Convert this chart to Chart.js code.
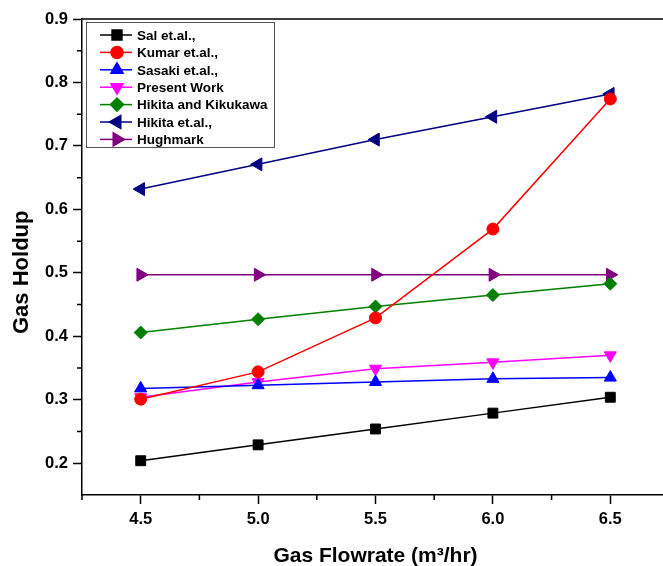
<!DOCTYPE html>
<html>
<head>
<meta charset="utf-8">
<script src="https://cdn.jsdelivr.net/npm/chart.js@4.4.1/dist/chart.umd.min.js"></script>
<style>
body { margin: 0; background: #fff; overflow: hidden; }
#wrap { width: 663px; height: 566px; overflow: hidden; }
#box { width: 680px; height: 566px; position: relative; }
</style>
</head>
<body>
<div id="wrap"><div id="box"><canvas id="myChart"></canvas></div></div>
<script>
// x values (gas flowrate, m3/hr)
const flowRates = [4.5, 5.0, 5.5, 6.0, 6.5];

// gas holdup
const salEtAl = [0.204, 0.229, 0.254, 0.279, 0.304];
const kumarEtAl = [0.301, 0.344, 0.429, 0.569, 0.774];
const sasakiEtAl = [0.318, 0.323, 0.328, 0.333, 0.335];
const presentWork = [0.304, 0.328, 0.349, 0.359, 0.370];
const hikitaKikukawa = [0.406, 0.427, 0.447, 0.465, 0.483];
const hikitaEtAl = [0.632, 0.671, 0.710, 0.746, 0.782];
const hughmark = [0.497, 0.497, 0.497, 0.497, 0.497];

// ticks
const xTicks = [4.5, 5.0, 5.5, 6.0, 6.5];
const xMinorTicks = [4.25, 4.75, 5.25, 5.75, 6.25, 6.75];
const yTicks = [0.2, 0.3, 0.4, 0.5, 0.6, 0.7, 0.8, 0.9];
const yMinorTicks = [0.25, 0.35, 0.45, 0.55, 0.65, 0.75, 0.85];

const FONT = "'Liberation Sans', Arial, sans-serif";
const NB = '\u00a0';

function makeSet(label, values, color, style, rot, r) {
    return {
        label: label,
        data: values.map((v, i) => ({ x: flowRates[i], y: v })),
        borderColor: color,
        backgroundColor: color,
        borderWidth: 1.5,
        pointStyle: style,
        rotation: rot,
        pointRadius: r,
        pointBorderWidth: 1,
        tension: 0
    };
}

const datasets = [
    makeSet('Sal et.al.,', salEtAl, '#000000', 'rect', 0, 7),
    makeSet('Kumar et.al.,', kumarEtAl, '#ff0000', 'circle', 0, 6),
    makeSet('Sasaki et.al.,', sasakiEtAl, '#0000ff', 'triangle', 0, 7),
    makeSet('Present Work', presentWork, '#ff00ff', 'triangle', 180, 7),
    makeSet('Hikita and Kikukawa', hikitaKikukawa, '#008000', 'rectRot', 0, 6.5),
    makeSet('Hikita et.al.,', hikitaEtAl, '#000080', 'triangle', -90, 7.5),
    makeSet('Hughmark', hughmark, '#800080', 'triangle', 90, 7.5)
];

// frame, minor ticks and boxed legend
const extras = {
    id: 'extras',
    afterDraw(chart) {
        const ctx = chart.ctx;
        const a = chart.chartArea;
        const xs = chart.scales.x, ys = chart.scales.y;
        ctx.save();
        ctx.strokeStyle = '#000';
        ctx.lineWidth = 1.5;
        ctx.beginPath();
        ctx.moveTo(a.left, a.top);
        ctx.lineTo(a.right, a.top);
        ctx.lineTo(a.right, a.bottom);
        xMinorTicks.forEach(v => {
            const px = xs.getPixelForValue(v);
            ctx.moveTo(px, a.bottom);
            ctx.lineTo(px, a.bottom + 5);
        });
        yMinorTicks.forEach(v => {
            const py = ys.getPixelForValue(v);
            ctx.moveTo(a.left, py);
            ctx.lineTo(a.left - 5, py);
        });
        ctx.stroke();

        // legend
        const lx = a.left + 4, ly = a.top + 3;
        ctx.lineWidth = 1;
        ctx.strokeStyle = '#555';
        ctx.strokeRect(lx + 0.5, ly + 0.5, 188, 125);
        ctx.font = 'bold 13.5px ' + FONT;
        ctx.textBaseline = 'middle';
        chart.data.datasets.forEach((ds, i) => {
            const y = ly + 13 + i * 17.4;
            ctx.strokeStyle = ds.borderColor;
            ctx.lineWidth = 1.5;
            ctx.beginPath();
            ctx.moveTo(lx + 14, y);
            ctx.lineTo(lx + 46, y);
            ctx.stroke();
            ctx.fillStyle = ds.backgroundColor;
            Chart.helpers.drawPoint(ctx, {
                pointStyle: ds.pointStyle,
                rotation: ds.rotation,
                radius: ds.pointRadius,
                borderWidth: 1
            }, lx + 31, y);
            ctx.fillStyle = '#000';
            ctx.fillText(ds.label, lx + 51, y + 1);
        });
        ctx.restore();
    }
};

const config = {
    type: 'line',
    data: { datasets: datasets },
    plugins: [extras],
    options: {
        animation: false,
        responsive: true,
        maintainAspectRatio: false,
        layout: { padding: { top: 19, right: 11, left: 0, bottom: 0 } },
        plugins: { legend: { display: false }, tooltip: { enabled: false } },
        scales: {
            x: {
                type: 'linear',
                min: 4.25,
                max: 6.75,
                afterBuildTicks: s => { s.ticks = xTicks.map(v => ({ value: v })); },
                afterFit: s => { s.height = 71; },
                grid: { drawOnChartArea: false, tickLength: 9, tickColor: '#000', tickWidth: 1.5 },
                border: { color: '#000', width: 1.5 },
                ticks: {
                    color: '#000',
                    padding: 6,
                    font: { family: FONT, size: 16.5, weight: 'bold' },
                    callback: v => v.toFixed(1)
                },
                title: {
                    display: true,
                    text: 'Gas Flowrate (m³/hr)',
                    color: '#000',
                    font: { family: FONT, size: 21, weight: 'bold' },
                    padding: { top: 0, bottom: -3 }
                }
            },
            y: {
                min: 0.15,
                max: 0.9,
                afterBuildTicks: s => { s.ticks = yTicks.map(v => ({ value: v })); },
                afterFit: s => { s.width = 82; },
                grid: { drawOnChartArea: false, tickLength: 9, tickColor: '#000', tickWidth: 1.5 },
                border: { color: '#000', width: 1.5 },
                ticks: {
                    color: '#000',
                    padding: 5,
                    font: { family: FONT, size: 16.5, weight: 'bold' },
                    callback: v => v.toFixed(1)
                },
                title: {
                    display: true,
                    text: 'Gas Holdup' + NB.repeat(5),
                    color: '#000',
                    font: { family: FONT, size: 22, weight: 'bold' },
                    padding: { top: 9, bottom: 0 }
                }
            }
        }
    }
};

const myChart = new Chart(document.getElementById('myChart'), config);
</script>
</body>
</html>
